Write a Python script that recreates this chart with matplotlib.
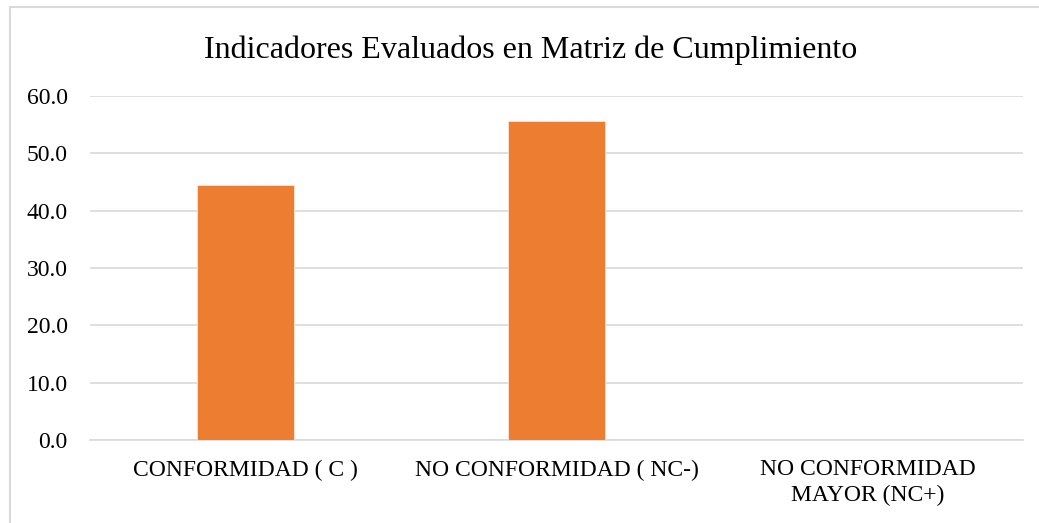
import matplotlib.pyplot as plt
from matplotlib.lines import Line2D

# Chart data
categories = ['CONFORMIDAD ( C )', 'NO CONFORMIDAD ( NC-)', 'NO CONFORMIDAD\nMAYOR (NC+)']
values = [44.4, 55.6, 0.0]
yticks = [0, 10, 20, 30, 40, 50, 60]

plt.rcParams['font.family'] = ['Liberation Serif', 'DejaVu Serif']

W, H = 1039, 523
fig = plt.figure(figsize=(W / 100, H / 100), dpi=100)
ax = fig.add_axes([90 / W, 1 - 440 / H, 933 / W, 344 / H])

x = range(len(categories))
ax.bar(x, values, width=0.312, color='#ed7d31', edgecolor='#fbe5d6', linewidth=0.6, zorder=3)

ax.set_xlim(-0.5, len(categories) - 0.5)
ax.set_ylim(0, 60)
ax.set_yticks(yticks)
ax.set_yticklabels([f'{v:.1f}' for v in yticks], fontsize=17, color='#000000')
ax.set_xticks(list(x))
ax.set_xticklabels(categories, fontsize=17, color='#000000', linespacing=1.3)
ax.tick_params(axis='both', length=0)
ax.tick_params(axis='y', pad=16)
ax.tick_params(axis='x', pad=14)

ax.grid(axis='y', color='#d9d9d9', linewidth=1.2, zorder=0)
for side in ['top', 'right', 'left']:
    ax.spines[side].set_visible(False)
ax.spines['bottom'].set_color('#d9d9d9')
ax.spines['bottom'].set_linewidth(1.2)

fig.text(531 / W, 1 - 50 / H, 'Indicadores Evaluados en Matriz de Cumplimiento',
         ha='center', va='center', fontsize=23, color='#000000')

# chart frame: only the top and left edges fall inside the picture
fig.add_artist(Line2D([9.5 / W, 1.0], [1 - 6.5 / H, 1 - 6.5 / H], transform=fig.transFigure,
                      color='#d9d9d9', linewidth=1.5))
fig.add_artist(Line2D([9.5 / W, 9.5 / W], [0.0, 1 - 6.5 / H], transform=fig.transFigure,
                      color='#d9d9d9', linewidth=1.5))

fig.savefig('out.png', dpi=100, facecolor='white')
